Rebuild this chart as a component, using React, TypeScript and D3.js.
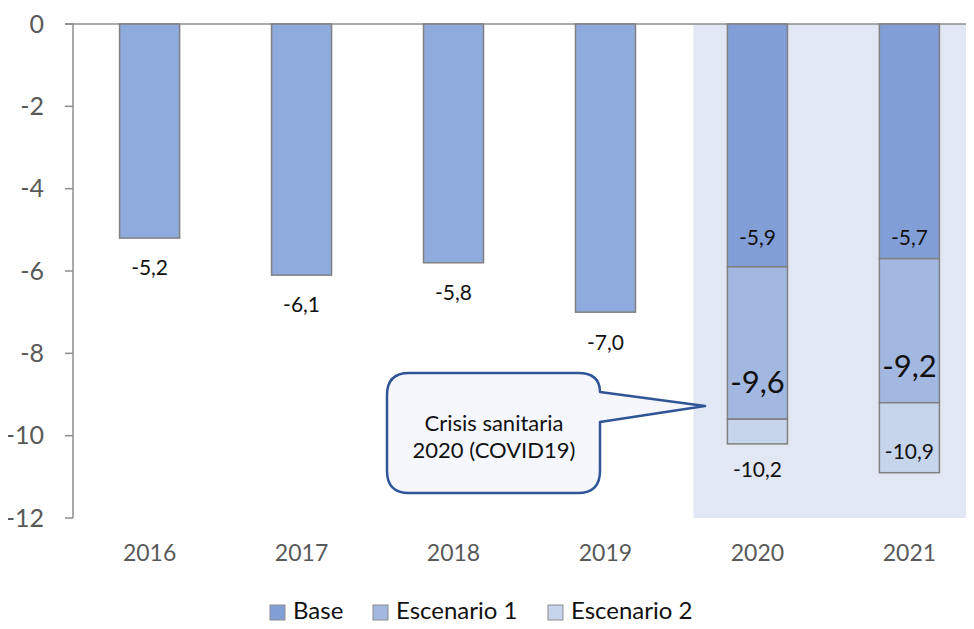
import React from 'react';
import * as d3 from 'd3';

const years = ['2016', '2017', '2018', '2019', '2020', '2021'];
const baseValues = [-5.2, -6.1, -5.8, -7.0, -5.9, -5.7];
const escenario1 = [null, null, null, null, -9.6, -9.2];
const escenario2 = [null, null, null, null, -10.2, -10.9];
const yTicks = [0, -2, -4, -6, -8, -10, -12];
const legendItems = ['Base', 'Escenario 1', 'Escenario 2'];

const W = 974;
const H = 629;
const FONT = 'Lato, "Open Sans", sans-serif';

const colors = {
  histBase: '#8FAADC',
  base: '#819FD6',
  esc1: '#A3B8E0',
  esc2: '#C6D4EC',
  shade: '#E1E7F3',
  stroke: '#808080',
  axis: '#8C8C8C',
  tickText: '#595959',
  callout: '#2F5597',
};

const fmt = (v: number) => v.toFixed(1).replace('.', ',');

export default function App() {
  const x = d3.scaleBand<string>().domain(years).range([74, 985]).paddingInner(0.605).paddingOuter(0.3);
  const y = d3.scaleLinear().domain([-12, 0]).range([518, 24]);
  const bw = x.bandwidth();
  const step = x.step();

  const shadeX = (x('2020') as number) - (step - bw) / 2 + 12;

  return (
    <div style={{ width: W, height: H, margin: -8, overflow: 'hidden' }}>
      <svg width={W} height={H} style={{ display: 'block', fontFamily: FONT }}>
        <rect x={0} y={0} width={W} height={H} fill="#fff" />
        {/* projection shading */}
        <rect x={shadeX} y={y(0)} width={W - shadeX} height={y(-12) - y(0)} fill={colors.shade} />

        {/* axes */}
        <line x1={65} x2={W} y1={y(0)} y2={y(0)} stroke={colors.axis} strokeWidth={1.5} />
        <line x1={73} x2={73} y1={y(0)} y2={y(-12)} stroke={colors.axis} strokeWidth={1.5} />
        {yTicks.map(t => (
          <g key={t}>
            <line x1={65} x2={73} y1={y(t)} y2={y(t)} stroke={colors.axis} strokeWidth={1.5} />
            <text x={44} y={y(t)} dy="0.35em" textAnchor="end" fontSize={25} fill={colors.tickText}>{t}</text>
          </g>
        ))}
        {years.map(yr => (
          <text key={yr} x={(x(yr) as number) + bw / 2} y={553} dy="0.35em" textAnchor="middle" fontSize={23} fill={colors.tickText}>{yr}</text>
        ))}

        {/* bars */}
        {years.map((yr, i) => {
          const bx = x(yr) as number;
          const cx = bx + bw / 2;
          const b = baseValues[i];
          const e1 = escenario1[i];
          const e2 = escenario2[i];
          if (e1 == null || e2 == null) {
            return (
              <g key={yr}>
                <rect x={bx} y={y(0)} width={bw} height={y(b) - y(0)} fill={colors.histBase} stroke={colors.stroke} strokeWidth={1.5} />
                <text x={cx} y={y(b) + 30} dy="0.35em" textAnchor="middle" fontSize={21} fill="#111">{fmt(b)}</text>
              </g>
            );
          }
          const e2Inside = y(e2) - y(e1) > 50;
          return (
            <g key={yr}>
              <rect x={bx} y={y(0)} width={bw} height={y(b) - y(0)} fill={colors.base} stroke={colors.stroke} strokeWidth={1.5} />
              <rect x={bx} y={y(b)} width={bw} height={y(e1) - y(b)} fill={colors.esc1} stroke={colors.stroke} strokeWidth={1.5} />
              <rect x={bx} y={y(e1)} width={bw} height={y(e2) - y(e1)} fill={colors.esc2} stroke={colors.stroke} strokeWidth={1.5} />
              <text x={cx} y={238} dy="0.35em" textAnchor="middle" fontSize={21} fill="#111">{fmt(b)}</text>
              <text x={cx} y={y(e1) - 37} dy="0.35em" textAnchor="middle" fontSize={31} fill="#111">{fmt(e1)}</text>
              <text x={cx} y={e2Inside ? y(e2) - 21 : y(e2) + 26} dy="0.35em" textAnchor="middle" fontSize={21} fill="#111">{fmt(e2)}</text>
            </g>
          );
        })}

        {/* callout */}
        <path
          d="M 409 373 L 578 373 Q 600 373 600 392 L 705 406 L 600 422 L 600 471 Q 600 493 578 493 L 409 493 Q 387 493 387 471 L 387 395 Q 387 373 409 373 Z"
          fill="#F5F7FC"
          stroke={colors.callout}
          strokeWidth={2.5}
          strokeLinejoin="round"
        />
        <text x={494} y={423} dy="0.35em" textAnchor="middle" fontSize={22} fill="#111">Crisis sanitaria</text>
        <text x={494} y={450} dy="0.35em" textAnchor="middle" fontSize={22} fill="#111">2020 (COVID19)</text>

        {/* legend */}
        {legendItems.map((name, i) => {
          const lx = [270, 373, 548][i];
          const fill = [colors.base, colors.esc1, colors.esc2][i];
          return (
            <g key={name}>
              <rect x={lx} y={605} width={15} height={15} fill={fill} stroke="#8C8C8C" strokeWidth={1} />
              <text x={lx + 23} y={611} dy="0.35em" fontSize={24} fill="#111">{name}</text>
            </g>
          );
        })}
      </svg>
    </div>
  );
}
